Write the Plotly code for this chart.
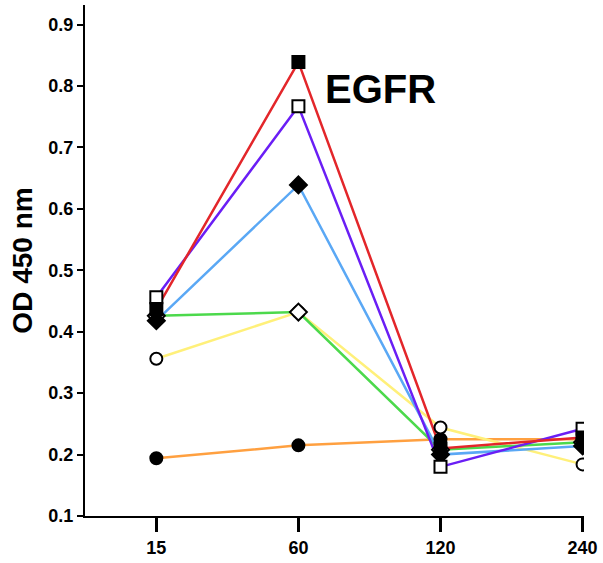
import plotly.graph_objects as go

categories = ["15", "60", "120", "240"]

red_filled_square = [0.437, 0.839, 0.210, 0.228]
purple_open_square = [0.456, 0.767, 0.180, 0.242]
blue_filled_diamond = [0.418, 0.639, 0.200, 0.214]
green_open_diamond = [0.426, 0.432, 0.208, 0.220]
yellow_open_circle = [0.356, 0.432, 0.244, 0.184]
orange_filled_circle = [0.194, 0.215, 0.225, 0.225]

y_ticks = [0.1, 0.2, 0.3, 0.4, 0.5, 0.6, 0.7, 0.8, 0.9]

series = [
    # values, line colour, symbol, filled
    (orange_filled_circle, "#FFA040", "circle", True),
    (yellow_open_circle, "#FFF07A", "circle", False),
    (green_open_diamond, "#4CD94C", "diamond", False),
    (blue_filled_diamond, "#5AA8F5", "diamond", True),
    (purple_open_square, "#6A1EF5", "square", False),
    (red_filled_square, "#E3262A", "square", True),
]

xpos = list(range(len(categories)))

fig = go.Figure()
for vals, col, sym, filled in series:
    fig.add_trace(go.Scatter(x=xpos, y=vals, mode="lines",
                             line=dict(color=col, width=2.5),
                             showlegend=False, hoverinfo="skip"))
for vals, col, sym, filled in series:
    size = 13 if sym == "diamond" else 12
    fig.add_trace(go.Scatter(
        x=xpos, y=vals, mode="markers", showlegend=False,
        marker=dict(symbol=sym, size=size,
                    color="black" if filled else "white",
                    line=dict(color="black", width=2))))

fig.add_annotation(x=0.477, y=0.835, xref="paper", yref="paper",
                   text="<b>EGFR</b>", showarrow=False,
                   xanchor="left", yanchor="middle",
                   font=dict(family="Liberation Sans, Arial", size=40, color="black"))

fig.update_layout(
    width=603, height=563,
    margin=dict(l=85, r=15, t=5, b=41),
    paper_bgcolor="white", plot_bgcolor="white",
    font=dict(family="Liberation Sans, Arial", color="black"),
)
fig.update_xaxes(
    range=[-0.502, 3.01], tickvals=xpos, ticktext=["<b>%s</b>" % c for c in categories],
    showline=True, linecolor="black", linewidth=2,
    ticks="outside", ticklen=14, tickwidth=3, tickcolor="black",
    tickfont=dict(size=18), showgrid=False, zeroline=False,
)
fig.update_yaxes(
    range=[0.1, 0.932], tickvals=y_ticks,
    ticktext=["<b>%.1f</b>" % t for t in y_ticks],
    showline=True, linecolor="black", linewidth=2,
    ticks="outside", ticklen=6, tickwidth=2, tickcolor="black",
    tickfont=dict(size=18), showgrid=False, zeroline=False,
    title=dict(text="<b>OD 450 nm</b>", font=dict(size=28), standoff=8),
)

fig.write_html("out.html")
